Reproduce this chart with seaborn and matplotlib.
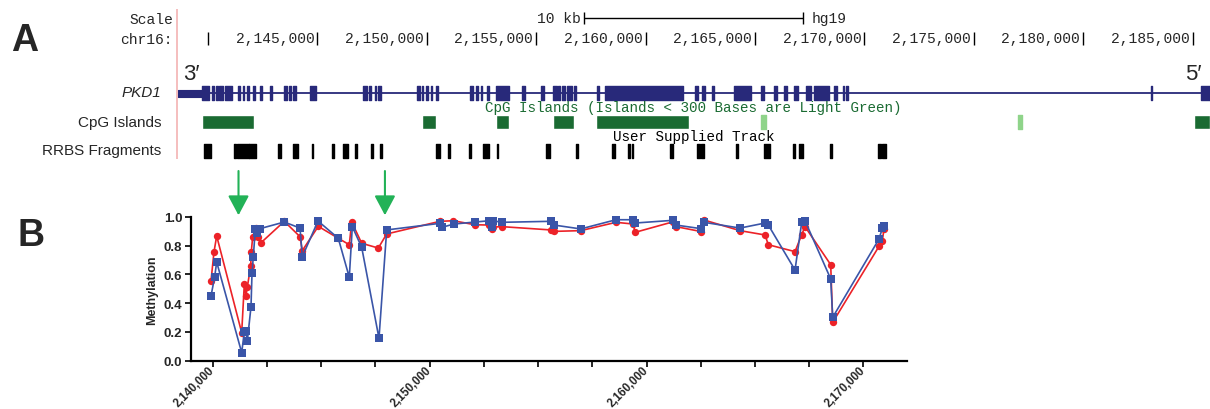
import numpy as np
import pandas as pd
import matplotlib
matplotlib.use("Agg")
import matplotlib.pyplot as plt
import matplotlib.transforms as mtransforms
from matplotlib.ticker import FixedLocator, MultipleLocator, FuncFormatter, FormatStrFormatter
import seaborn as sns

# ---------------- Panel A: genome browser view, hg19 chr16 ----------------
view_start, view_end = 2138588, 2185796
ruler_ticks = [2140000, 2145000, 2150000, 2155000, 2160000,
               2165000, 2170000, 2175000, 2180000, 2185000]
ruler_labels = ["", "2,145,000", "2,150,000", "2,155,000", "2,160,000",
                "2,165,000", "2,170,000", "2,175,000", "2,180,000", "2,185,000"]

# PKD1 (minus strand): 3' UTR at the left, exons, 5' end at the right
gene_span = (2138647, 2185796)
gene_utr = [(2138647, 2139717)]
gene_exons = [
    (2139717, 2140064), (2140174, 2140279), (2140370, 2140448), (2140521, 2140676),
    (2140781, 2141101), (2141362, 2141467), (2141590, 2141663), (2141801, 2141865),
    (2142075, 2142139), (2142381, 2142472), (2142830, 2142940), (2143491, 2143629),
    (2143720, 2143784), (2143875, 2144026), (2144666, 2144926), (2147074, 2147257),
    (2147362, 2147454), (2147623, 2147668), (2147787, 2147897), (2149569, 2149693),
    (2149771, 2149844), (2149967, 2150045), (2150173, 2150264), (2150442, 2150534),
    (2151978, 2152129), (2152238, 2152330), (2152467, 2152540), (2152741, 2152846),
    (2153166, 2153760), (2154368, 2154491), (2155222, 2155346), (2155785, 2155940),
    (2155986, 2156105), (2156169, 2156320), (2156397, 2156626), (2156731, 2156808),
    (2157768, 2157887), (2158134, 2161708), (2162260, 2162388), (2162603, 2162708),
    (2163015, 2163138), (2164047, 2164801), (2165281, 2165427), (2165871, 2165999),
    (2166319, 2166465), (2166803, 2166945), (2167356, 2167571), (2167712, 2168375),
    (2168590, 2168732), (2169038, 2169088), (2169180, 2169253), (2183082, 2183141),
    (2185407, 2185796),
]

cpg_islands = [
    (2139744, 2142107), (2149784, 2150424), (2153166, 2153774), (2155785, 2156744),
    (2157736, 2161986), (2185083, 2185796),
]
cpg_islands_small = [(2165277, 2165496), (2177007, 2177222)]

rrbs_fragments = [
    (2139822, 2140155), (2141193, 2141270), (2141344, 2141865), (2141892, 2142184),
    (2143217, 2143327), (2143903, 2144131), (2144744, 2144803), (2145685, 2145763),
    (2146160, 2146389), (2146722, 2146800), (2147467, 2147545), (2147851, 2147943),
    (2150410, 2150607), (2150986, 2151078), (2151946, 2152024), (2152586, 2152846),
    (2153198, 2153271), (2155451, 2155634), (2156808, 2156927), (2158481, 2158605),
    (2159212, 2159290), (2159367, 2159440), (2161100, 2161278), (2162352, 2162475),
    (2162535, 2162654), (2164134, 2164244), (2165391, 2165688), (2166748, 2166853),
    (2167036, 2167214), (2168411, 2168535), (2170623, 2170751), (2170825, 2170967),
]

# ---------------- Panel B: methylation per CpG site ----------------
red_pos = [2139922, 2140060, 2140184, 2141337, 2141457, 2141535, 2141595, 2141752,
           2141779, 2141844, 2141982, 2142102, 2142213, 2143301, 2144025, 2144131,
           2144868, 2145790, 2146297, 2146408, 2146869, 2147634, 2148021, 2150478,
           2151092, 2152092, 2152751, 2152862, 2152936, 2153323, 2155582, 2155734,
           2156965, 2158592, 2159390, 2159468, 2161234, 2161358, 2162505, 2162649,
           2164309, 2165462, 2165614, 2166845, 2167153, 2167305, 2168490, 2168582,
           2170717, 2170869, 2170947]
red_val = [0.555, 0.757, 0.868, 0.195, 0.532, 0.452, 0.511, 0.659,
           0.756, 0.863, 0.923, 0.859, 0.819, 0.970, 0.863, 0.766,
           0.935, 0.852, 0.807, 0.965, 0.817, 0.784, 0.882, 0.970,
           0.974, 0.946, 0.944, 0.917, 0.930, 0.933, 0.910, 0.900,
           0.905, 0.963, 0.951, 0.893, 0.967, 0.933, 0.899, 0.979,
           0.905, 0.875, 0.807, 0.759, 0.877, 0.933, 0.668, 0.267,
           0.796, 0.835, 0.917]

blue_pos = [2139922, 2140092, 2140184, 2141337, 2141457, 2141535, 2141595, 2141766,
            2141812, 2141872, 2141964, 2142056, 2142181, 2143301, 2144025, 2144131,
            2144855, 2145790, 2146297, 2146436, 2146869, 2147666, 2148021, 2150478,
            2150557, 2151124, 2152092, 2152751, 2152862, 2152936, 2153323, 2155582,
            2155734, 2156965, 2158592, 2159390, 2159468, 2161234, 2161358, 2162505,
            2162649, 2164309, 2165462, 2165614, 2166845, 2167153, 2167305, 2168490,
            2168582, 2170717, 2170869, 2170947]
blue_val = [0.450, 0.585, 0.687, 0.056, 0.200, 0.205, 0.135, 0.376,
            0.608, 0.724, 0.914, 0.887, 0.919, 0.965, 0.923, 0.724,
            0.972, 0.852, 0.580, 0.933, 0.789, 0.156, 0.910, 0.956,
            0.928, 0.951, 0.965, 0.974, 0.933, 0.974, 0.963, 0.970,
            0.944, 0.917, 0.981, 0.981, 0.958, 0.977, 0.944, 0.919,
            0.963, 0.923, 0.958, 0.944, 0.631, 0.963, 0.974, 0.569,
            0.302, 0.847, 0.921, 0.940]

highlight_sites = [2141190, 2147940]
y_ticks = [0.0, 0.2, 0.4, 0.6, 0.8, 1.0]
x_major = [2140000, 2150000, 2160000, 2170000]

# ---------------- style ----------------
sns.set_theme(style="white")
plt.rcParams["font.family"] = ["Liberation Sans", "DejaVu Sans"]

W, H = 1210, 410
fig = plt.figure(figsize=(W / 100, H / 100), dpi=100)


def fx(x):
    return x / W


def fy(y):
    return 1 - y / H


GENE = "#28297a"
CPG = "#1a6b32"
CPG_LIGHT = "#8fd48a"
RED = "#ec2228"
BLUE = "#3a55a8"
ARROW = "#22b257"
MONO = ["Liberation Mono", "DejaVu Sans Mono"]

# ---- browser axes: x in bp, y in screen rows (0 at top) ----
A_TOP = 165
ax_a = fig.add_axes([fx(177), fy(A_TOP), fx(W - 177), A_TOP / H])
ax_a.set_xlim(view_start, view_end)
ax_a.set_ylim(A_TOP, 0)
ax_a.axis("off")

# left separator
ax_a.vlines(view_start, 10, 160, color="#f3b3b3", lw=1.2, clip_on=False)

# scale bar, 10 kb centred on the view
mid = (view_start + view_end) / 2
sb0, sb1 = mid - 5000, mid + 5000
ax_a.hlines(19, sb0, sb1, color="black", lw=1)
ax_a.vlines([sb0, sb1], 13, 25, color="black", lw=1)
off = lambda dx: ax_a.transData + mtransforms.ScaledTranslation(dx / 100, 0, fig.dpi_scale_trans)
ax_a.text(sb0, 19, "10 kb", ha="right", va="center", family=MONO, fontsize=10.5, transform=off(-3))
ax_a.text(sb1, 19, "hg19", ha="left", va="center", family=MONO, fontsize=10.5, transform=off(9))

# position ruler
ax_a.vlines(ruler_ticks, 33, 46, color="black", lw=1)
for t, lab in zip(ruler_ticks, ruler_labels):
    if lab:
        ax_a.text(t, 39.5, lab, ha="right", va="center", family=MONO, fontsize=10.5, transform=off(-3))

fig.text(fx(173), fy(20), "Scale", ha="right", va="center", family=MONO, fontsize=10.5)
fig.text(fx(173), fy(39.5), "chr16:", ha="right", va="center", family=MONO, fontsize=10.5)

# gene model
GY = 94
ax_a.hlines(GY, gene_span[0], gene_span[1], color=GENE, lw=1.3)
ax_a.broken_barh([(s, e - s) for s, e in gene_utr], (GY - 3.5, 7), facecolors=GENE,
                 edgecolors=GENE, linewidth=0.8)
ax_a.broken_barh([(s, e - s) for s, e in gene_exons], (GY - 7, 14), facecolors=GENE,
                 edgecolors=GENE, linewidth=1.0)
ax_a.text(gene_span[0], 75, "3\u2032", ha="left", va="center", fontsize=16, transform=off(5))
ax_a.text(gene_span[1], 75, "5\u2032", ha="right", va="center", fontsize=16, transform=off(-8))

# CpG islands
ax_a.text(mid, 108, "CpG Islands (Islands < 300 Bases are Light Green)", ha="center", va="center",
          family=MONO, fontsize=10.3, color=CPG)
ax_a.broken_barh([(s, e - s) for s, e in cpg_islands], (116, 14), facecolors=CPG)
ax_a.broken_barh([(s, e - s) for s, e in cpg_islands_small], (116, 14), facecolors=CPG_LIGHT,
                 edgecolors=CPG_LIGHT, linewidth=1.0)

# RRBS fragments
ax_a.text(mid, 137.5, "User Supplied Track", ha="center", va="center", family=MONO, fontsize=10.3,
          color="black")
ax_a.broken_barh([(s, e - s) for s, e in rrbs_fragments], (145, 14), facecolors="black",
                 edgecolors="black", linewidth=1.0)

# track names
fig.text(fx(161), fy(93), "PKD1", ha="right", va="center", fontsize=11, style="italic")
fig.text(fx(161), fy(123), "CpG Islands", ha="right", va="center", fontsize=11)
fig.text(fx(161), fy(151), "RRBS Fragments", ha="right", va="center", fontsize=11)

fig.text(fx(25), fy(41), "A", ha="center", va="center", fontsize=27, fontweight="bold")
fig.text(fx(31), fy(236), "B", ha="center", va="center", fontsize=27, fontweight="bold")

# ---------------- methylation plot ----------------
B_L, B_R, B_TOP, B_BOT = 190.7, 907, 218, 361.7
ax_b = fig.add_axes([fx(B_L), fy(B_BOT), (B_R - B_L) / W, (B_BOT - B_TOP) / H])

red_df = pd.DataFrame({"position": red_pos, "methylation": red_val})
blue_df = pd.DataFrame({"position": blue_pos, "methylation": blue_val})
sns.lineplot(data=red_df, x="position", y="methylation", ax=ax_b, color=RED, marker="o",
             markersize=5.3, markeredgecolor=RED, markeredgewidth=0, lw=1.2,
             errorbar=None, clip_on=False, zorder=3)
sns.lineplot(data=blue_df, x="position", y="methylation", ax=ax_b, color=BLUE, marker="s",
             markersize=5.3, markeredgecolor=BLUE, markeredgewidth=0, lw=1.2,
             errorbar=None, clip_on=False, zorder=4)

ax_b.set_xlim(2138986, 2172007)
ax_b.set_ylim(0, 1.0)
for side in ("top", "right"):
    ax_b.spines[side].set_visible(False)
for side in ("left", "bottom"):
    ax_b.spines[side].set_linewidth(1.6)
    ax_b.spines[side].set_color("black")

ax_b.yaxis.set_major_locator(FixedLocator(y_ticks))
ax_b.yaxis.set_major_formatter(FormatStrFormatter("%.1f"))
ax_b.xaxis.set_major_locator(FixedLocator(x_major))
ax_b.xaxis.set_minor_locator(MultipleLocator(2500))
ax_b.xaxis.set_major_formatter(FuncFormatter(lambda v, p: f"{int(v):,}"))
ax_b.tick_params(axis="both", which="both", direction="out", length=4.5, width=1.2,
                 color="black", bottom=True, left=True)
ax_b.tick_params(axis="y", labelsize=9.5, pad=1.5)
ax_b.tick_params(axis="x", labelsize=8.3, pad=1)
for lab in ax_b.get_yticklabels():
    lab.set_fontweight("bold")
for lab in ax_b.get_xticklabels():
    lab.set_fontweight("bold")
    lab.set_rotation(45)
    lab.set_ha("right")
    lab.set_va("center")
    lab.set_rotation_mode("anchor")

ax_b.set_xlabel("")
ax_b.set_ylabel("Methylation", fontsize=9, fontweight="bold")
ax_b.yaxis.set_label_coords((158 - B_L) / (B_R - B_L), 0.5)

# arrows marking the two hypomethylated sites
arrow_tf = mtransforms.blended_transform_factory(ax_b.transData, ax_b.transAxes)
for site in highlight_sites:
    ax_b.annotate("", xy=(site, 1.012), xytext=(site, 1.32), xycoords=arrow_tf, textcoords=arrow_tf,
                  arrowprops=dict(arrowstyle="-|>,head_length=0.6,head_width=0.32", color=ARROW,
                                  lw=1.5, shrinkA=0, shrinkB=0, mutation_scale=20))

fig.savefig("out.png", dpi=100, facecolor="white")
